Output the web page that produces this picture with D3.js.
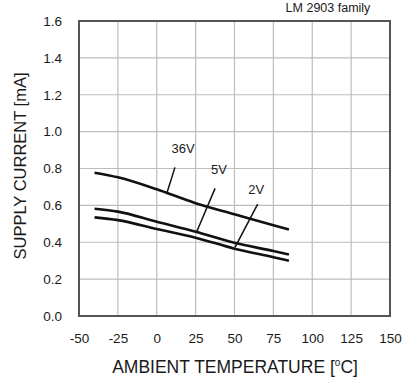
<!DOCTYPE html>
<html><head><meta charset="utf-8">
<script src="https://cdn.jsdelivr.net/npm/d3@7"></script>
<style>body{margin:0;background:#fff;} text{font-family:"Liberation Sans",Arial,sans-serif;}</style>
</head><body><svg id="c" width="415" height="385"></svg>
<script>
const temps = [-40, -25, 0, 25, 50, 75, 85];
const v36 = [0.777, 0.752, 0.687, 0.612, 0.552, 0.492, 0.469];
const v5  = [0.582, 0.566, 0.511, 0.457, 0.397, 0.352, 0.333];
const v2  = [0.535, 0.520, 0.472, 0.425, 0.365, 0.319, 0.300];
const seriesNames = ["36V", "5V", "2V"];
const xTicks = [-50, -25, 0, 25, 50, 75, 100, 125, 150];
const yTicks = [0.0, 0.2, 0.4, 0.6, 0.8, 1.0, 1.2, 1.4, 1.6];
// leader lines: [labelT, labelV, fromT, fromV, toT, toV]
const leaders = [
  [17, 0.905, 11.7, 0.806, 6.3, 0.66],
  [40, 0.79, 37.5, 0.692, 25.7, 0.457],
  [64, 0.683, 64.9, 0.607, 50.3, 0.372]
];

const svg = d3.select("#c");
const L = 79, R = 390, T = 21, B = 316;
const x = d3.scaleLinear().domain([-50, 150]).range([L, R]);
const y = d3.scaleLinear().domain([0, 1.6]).range([B, T]);
const FONT = "Liberation Sans, Arial, sans-serif";

// grid
svg.append("g").selectAll("line").data(xTicks.slice(1, -1)).join("line")
  .attr("x1", d => x(d)).attr("x2", d => x(d)).attr("y1", T).attr("y2", B)
  .attr("stroke", "#bdbdbd").attr("stroke-width", 1.2);
svg.append("g").selectAll("line").data(yTicks.slice(1, -1)).join("line")
  .attr("y1", d => y(d)).attr("y2", d => y(d)).attr("x1", L).attr("x2", R)
  .attr("stroke", "#bdbdbd").attr("stroke-width", 1.2);

// axes (labels only)
const xa = svg.append("g").attr("transform", `translate(0,${B})`)
  .call(d3.axisBottom(x).tickValues(xTicks).tickSize(0).tickPadding(17).tickFormat(d => String(d)));
xa.select(".domain").remove();
xa.selectAll("text").attr("font-size", 13.5).attr("fill", "#1a1a1a").attr("font-family", FONT);
const ya = svg.append("g").attr("transform", `translate(${L},0)`)
  .call(d3.axisLeft(y).tickValues(yTicks).tickSize(0).tickPadding(17).tickFormat(d3.format(".1f")));
ya.select(".domain").remove();
ya.selectAll("text").attr("font-size", 13.5).attr("fill", "#1a1a1a").attr("font-family", FONT);

// frame
svg.append("rect").attr("x", L).attr("y", T).attr("width", R - L).attr("height", B - T)
  .attr("fill", "none").attr("stroke", "#555").attr("stroke-width", 2);

// curves
const line = d3.line().x(d => x(d[0])).y(d => y(d[1])).curve(d3.curveMonotoneX);
[v36, v5, v2].forEach(vals => {
  svg.append("path").datum(temps.map((t, i) => [t, vals[i]]))
    .attr("d", line).attr("fill", "none").attr("stroke", "#111").attr("stroke-width", 2.6);
});

// leaders & labels
leaders.forEach((l, i) => {
  svg.append("line").attr("x1", x(l[2])).attr("y1", y(l[3])).attr("x2", x(l[4])).attr("y2", y(l[5]))
    .attr("stroke", "#111").attr("stroke-width", 1.5);
  svg.append("text").attr("x", x(l[0])).attr("y", y(l[1])).attr("text-anchor", "middle")
    .attr("dominant-baseline", "middle").attr("font-size", 13).attr("fill", "#1a1a1a").text(seriesNames[i]);
});

// titles
const xt = svg.append("text").attr("x", 235).attr("y", 373).attr("text-anchor", "middle")
  .attr("font-size", 17.5).attr("fill", "#1a1a1a");
xt.append("tspan").text("AMBIENT TEMPERATURE [");
xt.append("tspan").attr("font-size", 10).attr("dy", -7).text("o");
xt.append("tspan").attr("dy", 7).text("C]");
svg.append("text").attr("transform", "translate(26,166) rotate(-90)").attr("text-anchor", "middle")
  .attr("font-size", 16.5).attr("fill", "#1a1a1a").text("SUPPLY CURRENT [mA]");
svg.append("text").attr("x", 328).attr("y", 12).attr("text-anchor", "middle")
  .attr("font-size", 12.5).attr("fill", "#1a1a1a").text("LM 2903 family");
</script></body></html>
